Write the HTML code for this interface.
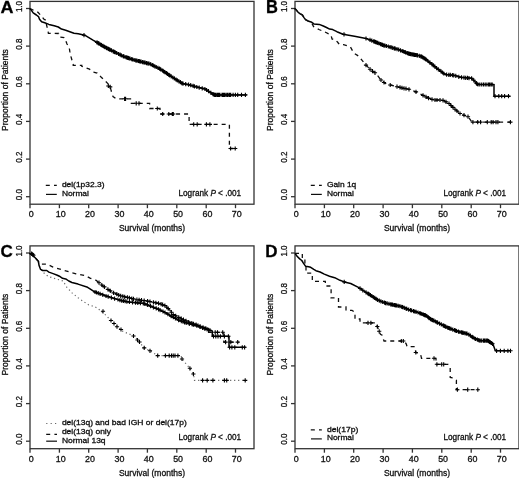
<!DOCTYPE html><html><head><meta charset="utf-8"><style>
html,body{margin:0;padding:0;background:#fff;}
body{width:520px;height:478px;overflow:hidden;}
svg{display:block;will-change:transform;}
text{font-family:"Liberation Sans", sans-serif;fill:#111;stroke:#111;stroke-width:0.3;}
.tl{font-size:8.9px;}
.tly{font-size:9px;}
.lab{font-size:8.5px;}
.leg{font-size:8.2px;}
.lg{font-size:7.5px;}
.let{font-size:17px;font-weight:bold;fill:#000;}
.ax{fill:none;stroke:#333;stroke-width:1.3;}
.sl{fill:none;stroke:#111;stroke-width:1.2;}
.dsl{fill:none;stroke:#111;stroke-width:1.2;stroke-dasharray:4 4.2;}
.dtl{fill:none;stroke:#666;stroke-width:1.2;stroke-dasharray:1.2 3.2;}
.sc{fill:none;stroke:#000;stroke-width:1.5;stroke-linejoin:round;}
.dc{fill:none;stroke:#111;stroke-width:1.3;stroke-dasharray:4 4;}
.tc{fill:none;stroke:#666;stroke-width:1.2;stroke-dasharray:1.2 2.8;}
.cr{fill:none;stroke:#000;stroke-width:1.1;}
</style></head><body>
<svg width="520" height="478" viewBox="0 0 520 478">
<defs><filter id="bl" x="0" y="0" width="1" height="1"><feGaussianBlur stdDeviation="0.4"/></filter></defs>
<rect width="520" height="478" fill="#fff"/>
<g filter="url(#bl)">
<g transform="translate(0 0)">
<rect class="ax" x="30" y="1.4" width="224" height="202.8"/>
<path class="ax" d="M26 196.7 H30"/>
<text class="tly" transform="translate(21.8 194.7) rotate(-90)" text-anchor="middle" textLength="11.1" lengthAdjust="spacingAndGlyphs">0.0</text>
<path class="ax" d="M26 159.1 H30"/>
<text class="tly" transform="translate(21.8 157.1) rotate(-90)" text-anchor="middle" textLength="11.1" lengthAdjust="spacingAndGlyphs">0.2</text>
<path class="ax" d="M26 121.4 H30"/>
<text class="tly" transform="translate(21.8 119.4) rotate(-90)" text-anchor="middle" textLength="11.1" lengthAdjust="spacingAndGlyphs">0.4</text>
<path class="ax" d="M26 83.8 H30"/>
<text class="tly" transform="translate(21.8 81.8) rotate(-90)" text-anchor="middle" textLength="11.1" lengthAdjust="spacingAndGlyphs">0.6</text>
<path class="ax" d="M26 46.1 H30"/>
<text class="tly" transform="translate(21.8 44.1) rotate(-90)" text-anchor="middle" textLength="11.1" lengthAdjust="spacingAndGlyphs">0.8</text>
<path class="ax" d="M26 8.5 H30"/>
<text class="tly" transform="translate(21.8 6.5) rotate(-90)" text-anchor="middle" textLength="11.1" lengthAdjust="spacingAndGlyphs">1.0</text>
<path class="ax" d="M30 204.2 V208.2"/>
<text class="tl" x="31.3" y="217" text-anchor="middle">0</text>
<path class="ax" d="M59.4 204.2 V208.2"/>
<text class="tl" x="60.7" y="217" text-anchor="middle">10</text>
<path class="ax" d="M88.7 204.2 V208.2"/>
<text class="tl" x="90" y="217" text-anchor="middle">20</text>
<path class="ax" d="M118.1 204.2 V208.2"/>
<text class="tl" x="119.4" y="217" text-anchor="middle">30</text>
<path class="ax" d="M147.4 204.2 V208.2"/>
<text class="tl" x="148.7" y="217" text-anchor="middle">40</text>
<path class="ax" d="M176.8 204.2 V208.2"/>
<text class="tl" x="178.1" y="217" text-anchor="middle">50</text>
<path class="ax" d="M206.2 204.2 V208.2"/>
<text class="tl" x="207.5" y="217" text-anchor="middle">60</text>
<path class="ax" d="M235.5 204.2 V208.2"/>
<text class="tl" x="236.8" y="217" text-anchor="middle">70</text>
<text class="lab" x="152" y="231.2" text-anchor="middle">Survival (months)</text>
<text class="lab" transform="translate(7.6 90) rotate(-90)" text-anchor="middle">Proportion of Patients</text>
<text class="let" transform="translate(0.5 13.2) scale(1.06 1)">A</text>
<text class="leg" x="178.5" y="195.8">Logrank <tspan font-style="italic">P</tspan> &lt; .001</text>
<path class="dsl" d="M45.8 185.3 H56.8"/>
<text class="lg" x="61.9" y="187.1" textLength="42.6" lengthAdjust="spacingAndGlyphs">del(1p32.3)</text>
<path class="sl" d="M46 194.4 H56.8"/>
<text class="lg" x="61.9" y="195.8" textLength="27" lengthAdjust="spacingAndGlyphs">Normal</text>
</g>
<g transform="translate(265 0)">
<rect class="ax" x="30" y="1.4" width="224" height="202.8"/>
<path class="ax" d="M26 196.7 H30"/>
<text class="tly" transform="translate(21.8 194.7) rotate(-90)" text-anchor="middle" textLength="11.1" lengthAdjust="spacingAndGlyphs">0.0</text>
<path class="ax" d="M26 159.1 H30"/>
<text class="tly" transform="translate(21.8 157.1) rotate(-90)" text-anchor="middle" textLength="11.1" lengthAdjust="spacingAndGlyphs">0.2</text>
<path class="ax" d="M26 121.4 H30"/>
<text class="tly" transform="translate(21.8 119.4) rotate(-90)" text-anchor="middle" textLength="11.1" lengthAdjust="spacingAndGlyphs">0.4</text>
<path class="ax" d="M26 83.8 H30"/>
<text class="tly" transform="translate(21.8 81.8) rotate(-90)" text-anchor="middle" textLength="11.1" lengthAdjust="spacingAndGlyphs">0.6</text>
<path class="ax" d="M26 46.1 H30"/>
<text class="tly" transform="translate(21.8 44.1) rotate(-90)" text-anchor="middle" textLength="11.1" lengthAdjust="spacingAndGlyphs">0.8</text>
<path class="ax" d="M26 8.5 H30"/>
<text class="tly" transform="translate(21.8 6.5) rotate(-90)" text-anchor="middle" textLength="11.1" lengthAdjust="spacingAndGlyphs">1.0</text>
<path class="ax" d="M30 204.2 V208.2"/>
<text class="tl" x="31.3" y="217" text-anchor="middle">0</text>
<path class="ax" d="M59.4 204.2 V208.2"/>
<text class="tl" x="60.7" y="217" text-anchor="middle">10</text>
<path class="ax" d="M88.7 204.2 V208.2"/>
<text class="tl" x="90" y="217" text-anchor="middle">20</text>
<path class="ax" d="M118.1 204.2 V208.2"/>
<text class="tl" x="119.4" y="217" text-anchor="middle">30</text>
<path class="ax" d="M147.4 204.2 V208.2"/>
<text class="tl" x="148.7" y="217" text-anchor="middle">40</text>
<path class="ax" d="M176.8 204.2 V208.2"/>
<text class="tl" x="178.1" y="217" text-anchor="middle">50</text>
<path class="ax" d="M206.2 204.2 V208.2"/>
<text class="tl" x="207.5" y="217" text-anchor="middle">60</text>
<path class="ax" d="M235.5 204.2 V208.2"/>
<text class="tl" x="236.8" y="217" text-anchor="middle">70</text>
<text class="lab" x="152" y="231.2" text-anchor="middle">Survival (months)</text>
<text class="lab" transform="translate(7.6 90) rotate(-90)" text-anchor="middle">Proportion of Patients</text>
<text class="let" transform="translate(1.1 13.3) scale(0.97 1.03)">B</text>
<text class="leg" x="178.5" y="195.8">Logrank <tspan font-style="italic">P</tspan> &lt; .001</text>
<path class="dsl" d="M45.8 185.3 H56.8"/>
<text class="lg" x="61.9" y="187.1" textLength="29.4" lengthAdjust="spacingAndGlyphs">Gain 1q</text>
<path class="sl" d="M46 194.4 H56.8"/>
<text class="lg" x="61.9" y="195.8" textLength="27" lengthAdjust="spacingAndGlyphs">Normal</text>
</g>
<g transform="translate(0 244.5)">
<rect class="ax" x="30" y="1.4" width="224" height="202.8"/>
<path class="ax" d="M26 196.7 H30"/>
<text class="tly" transform="translate(21.8 194.7) rotate(-90)" text-anchor="middle" textLength="11.1" lengthAdjust="spacingAndGlyphs">0.0</text>
<path class="ax" d="M26 159.1 H30"/>
<text class="tly" transform="translate(21.8 157.1) rotate(-90)" text-anchor="middle" textLength="11.1" lengthAdjust="spacingAndGlyphs">0.2</text>
<path class="ax" d="M26 121.4 H30"/>
<text class="tly" transform="translate(21.8 119.4) rotate(-90)" text-anchor="middle" textLength="11.1" lengthAdjust="spacingAndGlyphs">0.4</text>
<path class="ax" d="M26 83.8 H30"/>
<text class="tly" transform="translate(21.8 81.8) rotate(-90)" text-anchor="middle" textLength="11.1" lengthAdjust="spacingAndGlyphs">0.6</text>
<path class="ax" d="M26 46.1 H30"/>
<text class="tly" transform="translate(21.8 44.1) rotate(-90)" text-anchor="middle" textLength="11.1" lengthAdjust="spacingAndGlyphs">0.8</text>
<path class="ax" d="M26 8.5 H30"/>
<text class="tly" transform="translate(21.8 6.5) rotate(-90)" text-anchor="middle" textLength="11.1" lengthAdjust="spacingAndGlyphs">1.0</text>
<path class="ax" d="M30 204.2 V208.2"/>
<text class="tl" x="31.3" y="217" text-anchor="middle">0</text>
<path class="ax" d="M59.4 204.2 V208.2"/>
<text class="tl" x="60.7" y="217" text-anchor="middle">10</text>
<path class="ax" d="M88.7 204.2 V208.2"/>
<text class="tl" x="90" y="217" text-anchor="middle">20</text>
<path class="ax" d="M118.1 204.2 V208.2"/>
<text class="tl" x="119.4" y="217" text-anchor="middle">30</text>
<path class="ax" d="M147.4 204.2 V208.2"/>
<text class="tl" x="148.7" y="217" text-anchor="middle">40</text>
<path class="ax" d="M176.8 204.2 V208.2"/>
<text class="tl" x="178.1" y="217" text-anchor="middle">50</text>
<path class="ax" d="M206.2 204.2 V208.2"/>
<text class="tl" x="207.5" y="217" text-anchor="middle">60</text>
<path class="ax" d="M235.5 204.2 V208.2"/>
<text class="tl" x="236.8" y="217" text-anchor="middle">70</text>
<text class="lab" x="152" y="231.2" text-anchor="middle">Survival (months)</text>
<text class="lab" transform="translate(7.6 90) rotate(-90)" text-anchor="middle">Proportion of Patients</text>
<text class="let" transform="translate(0.5 12.9)">C</text>
<text class="leg" x="178.5" y="195.8">Logrank <tspan font-style="italic">P</tspan> &lt; .001</text>
<path class="dtl" d="M46.2 179 H57"/>
<text class="lg" x="61.9" y="180.6" textLength="124.9" lengthAdjust="spacingAndGlyphs">del(13q) and bad IGH or del(17p)</text>
<path class="dsl" d="M46.2 189.8 H57"/>
<text class="lg" x="61.9" y="189.4" textLength="49.1" lengthAdjust="spacingAndGlyphs">del(13q) only</text>
<path class="sl" d="M46.2 196.7 H57"/>
<text class="lg" x="61.9" y="198.7" textLength="43.7" lengthAdjust="spacingAndGlyphs">Normal 13q</text>
</g>
<g transform="translate(265 244.5)">
<rect class="ax" x="30" y="1.4" width="224" height="202.8"/>
<path class="ax" d="M26 196.7 H30"/>
<text class="tly" transform="translate(21.8 194.7) rotate(-90)" text-anchor="middle" textLength="11.1" lengthAdjust="spacingAndGlyphs">0.0</text>
<path class="ax" d="M26 159.1 H30"/>
<text class="tly" transform="translate(21.8 157.1) rotate(-90)" text-anchor="middle" textLength="11.1" lengthAdjust="spacingAndGlyphs">0.2</text>
<path class="ax" d="M26 121.4 H30"/>
<text class="tly" transform="translate(21.8 119.4) rotate(-90)" text-anchor="middle" textLength="11.1" lengthAdjust="spacingAndGlyphs">0.4</text>
<path class="ax" d="M26 83.8 H30"/>
<text class="tly" transform="translate(21.8 81.8) rotate(-90)" text-anchor="middle" textLength="11.1" lengthAdjust="spacingAndGlyphs">0.6</text>
<path class="ax" d="M26 46.1 H30"/>
<text class="tly" transform="translate(21.8 44.1) rotate(-90)" text-anchor="middle" textLength="11.1" lengthAdjust="spacingAndGlyphs">0.8</text>
<path class="ax" d="M26 8.5 H30"/>
<text class="tly" transform="translate(21.8 6.5) rotate(-90)" text-anchor="middle" textLength="11.1" lengthAdjust="spacingAndGlyphs">1.0</text>
<path class="ax" d="M30 204.2 V208.2"/>
<text class="tl" x="31.3" y="217" text-anchor="middle">0</text>
<path class="ax" d="M59.4 204.2 V208.2"/>
<text class="tl" x="60.7" y="217" text-anchor="middle">10</text>
<path class="ax" d="M88.7 204.2 V208.2"/>
<text class="tl" x="90" y="217" text-anchor="middle">20</text>
<path class="ax" d="M118.1 204.2 V208.2"/>
<text class="tl" x="119.4" y="217" text-anchor="middle">30</text>
<path class="ax" d="M147.4 204.2 V208.2"/>
<text class="tl" x="148.7" y="217" text-anchor="middle">40</text>
<path class="ax" d="M176.8 204.2 V208.2"/>
<text class="tl" x="178.1" y="217" text-anchor="middle">50</text>
<path class="ax" d="M206.2 204.2 V208.2"/>
<text class="tl" x="207.5" y="217" text-anchor="middle">60</text>
<path class="ax" d="M235.5 204.2 V208.2"/>
<text class="tl" x="236.8" y="217" text-anchor="middle">70</text>
<text class="lab" x="152" y="231.2" text-anchor="middle">Survival (months)</text>
<text class="lab" transform="translate(7.6 90) rotate(-90)" text-anchor="middle">Proportion of Patients</text>
<text class="let" transform="translate(0.3 12.7) scale(1 1.02)">D</text>
<text class="leg" x="178.5" y="195.8">Logrank <tspan font-style="italic">P</tspan> &lt; .001</text>
<path class="dsl" d="M45.8 185.3 H56.8"/>
<text class="lg" x="61.9" y="187.1" textLength="31.4" lengthAdjust="spacingAndGlyphs">del(17p)</text>
<path class="sl" d="M46 194.4 H56.8"/>
<text class="lg" x="61.9" y="195.8" textLength="27" lengthAdjust="spacingAndGlyphs">Normal</text>
</g>
<path class="sc" d="M29.5 8.4 L31.1 9.8 L33.2 12.9 L36.4 15 L38.5 16.6 L39.5 19.2 L41.6 21.8 L44.7 22.8 L48.9 24.4 L54.2 25.8 L58.3 27 L61.5 29.1 L65.7 30.2 L69.8 31.7 L74 33.3 L78.2 33.8 L84.7 35.2 L93.4 40.4 L98 43 L104.9 47.1 L112.6 51 L124.2 56.7 L134.2 60 L145.8 62.9 L150 63.8 L155.4 66.7 L159.2 68.4 L166.5 73.2 L173 77.6 L182.2 83.4 L190 85 L196 86.8 L205.3 89.1 L212.2 93.7 L214.5 94.9 L246.7 94.9"/>
<path class="dc" d="M30 8.5 L34 10.5 L38 12.3 L44 19.2 L46.3 20.5 L46.5 25 L47.5 28.5 L48.4 33.3 L58.6 33.5 L60 37 L64 37.5 L65.5 40 L67 44 L69.3 48 L70.2 54 L73.2 64.4 L73.2 65.4 L81.8 65.4 L81.8 66.3 L89.5 69.2 L93.4 72.1 L97.2 73 L101 77 L104.4 80.2 L108.8 84.6 L110.2 86.9 L111.2 90.8 L113 96.5 L116 98.8 L130.5 98.8 L130.5 103.3 L149.6 103.3 L149.6 108.5 L160 108.5 L160 114 L189.1 114 L189.1 124.4 L229.4 124.4 L229.4 148.5 L237.5 148.5"/>
<path class="cr" d="M81.9 35.2h4.2M84 33.1v4.2M94.9 42.4h4.2M97 40.3v4.2M96.1 43.1h4.2M98.2 41v4.2M97 43.7h4.2M99.1 41.6v4.2M98.6 44.6h4.2M100.7 42.5v4.2M99.4 45.1h4.2M101.5 43v4.2M100.8 45.9h4.2M102.9 43.8v4.2M102 46.6h4.2M104.1 44.5v4.2M102.9 47.1h4.2M105 45v4.2M104.3 47.8h4.2M106.4 45.7v4.2M105.1 48.3h4.2M107.2 46.2v4.2M106.4 48.9h4.2M108.5 46.8v4.2M107.2 49.3h4.2M109.3 47.2v4.2M108.1 49.8h4.2M110.2 47.7v4.2M109.4 50.4h4.2M111.5 48.3v4.2M111.1 51.3h4.2M113.2 49.2v4.2M112.1 51.8h4.2M114.2 49.7v4.2M113.1 52.3h4.2M115.2 50.2v4.2M114.6 53h4.2M116.7 50.9v4.2M116.5 54h4.2M118.6 51.9v4.2M118 54.7h4.2M120.1 52.6v4.2M119.2 55.3h4.2M121.3 53.2v4.2M121.1 56.2h4.2M123.2 54.1v4.2M122 56.6h4.2M124.1 54.5v4.2M123.8 57.2h4.2M125.9 55.1v4.2M124.9 57.6h4.2M127 55.5v4.2M125.8 57.9h4.2M127.9 55.8v4.2M126.7 58.2h4.2M128.8 56.1v4.2M127.9 58.6h4.2M130 56.5v4.2M129.6 59.2h4.2M131.7 57.1v4.2M130.6 59.5h4.2M132.7 57.4v4.2M132.1 60h4.2M134.2 57.9v4.2M133.6 60.4h4.2M135.7 58.3v4.2M134.8 60.7h4.2M136.9 58.6v4.2M136.2 61h4.2M138.3 58.9v4.2M137.1 61.2h4.2M139.2 59.1v4.2M137.9 61.5h4.2M140 59.4v4.2M139 61.7h4.2M141.1 59.6v4.2M140.5 62.1h4.2M142.6 60v4.2M141.8 62.4h4.2M143.9 60.3v4.2M143 62.7h4.2M145.1 60.6v4.2M144.4 63.1h4.2M146.5 61v4.2M145.7 63.3h4.2M147.8 61.2v4.2M146.9 63.6h4.2M149 61.5v4.2M148.6 64.2h4.2M150.7 62.1v4.2M150.2 65h4.2M152.3 62.9v4.2M151.2 65.6h4.2M153.3 63.5v4.2M152.7 66.4h4.2M154.8 64.3v4.2M154.1 67h4.2M156.2 64.9v4.2M155.9 67.9h4.2M158 65.8v4.2M157.5 68.7h4.2M159.6 66.6v4.2M158.6 69.4h4.2M160.7 67.3v4.2M160.6 70.7h4.2M162.7 68.6v4.2M161.5 71.3h4.2M163.6 69.2v4.2M162.7 72.1h4.2M164.8 70v4.2M164.4 73.2h4.2M166.5 71.1v4.2M165.4 73.9h4.2M167.5 71.8v4.2M166.7 74.8h4.2M168.8 72.7v4.2M167.6 75.3h4.2M169.7 73.2v4.2M169.1 76.4h4.2M171.2 74.3v4.2M170.8 77.5h4.2M172.9 75.4v4.2M172.2 78.4h4.2M174.3 76.3v4.2M174 79.6h4.2M176.1 77.5v4.2M175.2 80.3h4.2M177.3 78.2v4.2M176.8 81.3h4.2M178.9 79.2v4.2M178.3 82.2h4.2M180.4 80.1v4.2M179.7 83.2h4.2M181.8 81.1v4.2M180.9 83.6h4.2M183 81.5v4.2M183.6 84.1h4.2M185.7 82v4.2M186.5 84.7h4.2M188.6 82.6v4.2M188.6 85.2h4.2M190.7 83.1v4.2M191 85.9h4.2M193.1 83.8v4.2M192.3 86.3h4.2M194.4 84.2v4.2M194.7 87h4.2M196.8 84.9v4.2M197.1 87.6h4.2M199.2 85.5v4.2M200.1 88.3h4.2M202.2 86.2v4.2M202.8 89h4.2M204.9 86.9v4.2M204.5 90h4.2M206.6 87.9v4.2M206.4 91.2h4.2M208.5 89.1v4.2M208.8 92.8h4.2M210.9 90.7v4.2M210.9 94.1h4.2M213 92v4.2M211.9 94.6h4.2M214 92.5v4.2M212.7 94.9h4.2M214.8 92.8v4.2M213.4 94.9h4.2M215.5 92.8v4.2M214 94.9h4.2M216.1 92.8v4.2M215.3 94.9h4.2M217.4 92.8v4.2M216 94.9h4.2M218.1 92.8v4.2M216.9 94.9h4.2M219 92.8v4.2M217.8 94.9h4.2M219.9 92.8v4.2M219.9 94.9h4.2M222 92.8v4.2M220.6 94.9h4.2M222.7 92.8v4.2M221.6 94.9h4.2M223.7 92.8v4.2M222.7 94.9h4.2M224.8 92.8v4.2M224.1 94.9h4.2M226.2 92.8v4.2M225.4 94.9h4.2M227.5 92.8v4.2M226.8 94.9h4.2M228.9 92.8v4.2M227.6 94.9h4.2M229.7 92.8v4.2M228.6 94.9h4.2M230.7 92.8v4.2M231 94.9h4.2M233.1 92.8v4.2M233.3 94.9h4.2M235.4 92.8v4.2M235.6 94.9h4.2M237.7 92.8v4.2M239.4 94.9h4.2M241.5 92.8v4.2M243.3 94.9h4.2M245.4 92.8v4.2"/>
<path class="cr" d="M106.2 86h4.2M108.3 83.9v4.2M108.1 86.9h4.2M110.2 84.8v4.2M122.5 98.8h4.2M124.6 96.7v4.2M123.5 98.8h4.2M125.6 96.7v4.2M134.1 103.3h4.2M136.2 101.2v4.2M136.9 103.3h4.2M139 101.2v4.2M155.2 108.5h4.2M157.3 106.4v4.2M160.6 114h4.2M162.7 111.9v4.2M166.7 114h4.2M168.8 111.9v4.2M170.2 114h4.2M172.3 111.9v4.2M171.2 114h4.2M173.3 111.9v4.2M191.6 124.4h4.2M193.7 122.3v4.2M195.1 124.4h4.2M197.2 122.3v4.2M204.3 124.4h4.2M206.4 122.3v4.2M207.8 124.4h4.2M209.9 122.3v4.2M228.5 148.5h4.2M230.6 146.4v4.2M233.1 148.5h4.2M235.2 146.4v4.2"/>
<path class="sc" d="M294.5 8.3 L296.1 9.8 L298.2 12.4 L300.3 13.9 L302.4 15 L304 17.6 L305.6 19.7 L308.7 21.3 L311.8 22.3 L313.9 23.9 L319.2 24.4 L323.3 26 L326.5 27.5 L329.6 29.1 L332.7 29.6 L336.9 31.7 L343 34.3 L354.5 36.2 L366.1 38.5 L373.8 41.3 L383.4 45.2 L389.6 46.9 L399.2 49.8 L408.8 53.7 L418.5 55.6 L421.3 56.4 L425.8 59.3 L431.5 63.8 L437.3 68.7 L445 74.4 L454.6 75.4 L460.4 77.3 L471.9 78.3 L477.7 84.5 L494 84.5 L494 96.2 L510.4 96.2"/>
<path class="dc" d="M294.5 8.3 L296.1 9.8 L298.2 12.4 L300.3 13.9 L302.4 15 L304 17.6 L305.6 19.7 L308.7 21.3 L311.5 22.5 L313.5 26.5 L319 29.5 L325 32 L331 35 L332 39 L335 39.6 L337.5 42 L339.2 44.3 L343.5 44.6 L350.4 46.9 L353.8 53 L359 56.4 L362.5 60.8 L366 65.1 L371.1 70.3 L376.3 73.7 L380.7 79.8 L385 83.3 L390.2 85 L397.1 86.7 L404 88.4 L409.2 89.3 L416.1 91.9 L423 95.4 L428.2 98 L433.5 100 L442.1 100 L448.8 103.3 L454.6 109 L460.4 113.8 L468.1 116.7 L471.9 122.1 L510.4 122.1"/>
<path class="cr" d="M341.9 34.4h4.2M344 32.3v4.2M363.9 38.5h4.2M366 36.4v4.2M367.9 39.9h4.2M370 37.8v4.2M369.7 40.6h4.2M371.8 38.5v4.2M371.6 41.3h4.2M373.7 39.2v4.2M372.6 41.7h4.2M374.7 39.6v4.2M373.6 42.1h4.2M375.7 40v4.2M374.6 42.5h4.2M376.7 40.4v4.2M375.7 42.9h4.2M377.8 40.8v4.2M377 43.5h4.2M379.1 41.4v4.2M378.5 44.1h4.2M380.6 42v4.2M379.6 44.5h4.2M381.7 42.4v4.2M380.4 44.8h4.2M382.5 42.7v4.2M381.6 45.3h4.2M383.7 43.2v4.2M382.8 45.6h4.2M384.9 43.5v4.2M384.3 46h4.2M386.4 43.9v4.2M386.2 46.5h4.2M388.3 44.4v4.2M387.8 47h4.2M389.9 44.9v4.2M389.1 47.4h4.2M391.2 45.3v4.2M390.6 47.8h4.2M392.7 45.7v4.2M392.2 48.3h4.2M394.3 46.2v4.2M393.1 48.6h4.2M395.2 46.5v4.2M394.9 49.1h4.2M397 47v4.2M396.6 49.6h4.2M398.7 47.5v4.2M398.4 50.3h4.2M400.5 48.2v4.2M400.1 51h4.2M402.2 48.9v4.2M401.3 51.5h4.2M403.4 49.4v4.2M402.6 52h4.2M404.7 49.9v4.2M403.5 52.4h4.2M405.6 50.3v4.2M405 53h4.2M407.1 50.9v4.2M405.9 53.4h4.2M408 51.3v4.2M406.7 53.7h4.2M408.8 51.6v4.2M407.7 53.9h4.2M409.8 51.8v4.2M408.7 54.1h4.2M410.8 52v4.2M409.9 54.3h4.2M412 52.2v4.2M410.7 54.5h4.2M412.8 52.4v4.2M411.5 54.6h4.2M413.6 52.5v4.2M412.5 54.8h4.2M414.6 52.7v4.2M413.4 55h4.2M415.5 52.9v4.2M414.6 55.2h4.2M416.7 53.1v4.2M415.4 55.4h4.2M417.5 53.3v4.2M417.2 55.8h4.2M419.3 53.7v4.2M418.7 56.3h4.2M420.8 54.2v4.2M419.6 56.7h4.2M421.7 54.6v4.2M420.7 57.4h4.2M422.8 55.3v4.2M421.9 58.1h4.2M424 56v4.2M423.1 58.9h4.2M425.2 56.8v4.2M424 59.6h4.2M426.1 57.5v4.2M425.8 61h4.2M427.9 58.9v4.2M427.7 62.5h4.2M429.8 60.4v4.2M427.9 62.6h4.2M430 60.5v4.2M430 64.3h4.2M432.1 62.2v4.2M431.3 65.4h4.2M433.4 63.3v4.2M432.7 66.6h4.2M434.8 64.5v4.2M434.5 68.1h4.2M436.6 66v4.2M436.2 69.4h4.2M438.3 67.3v4.2M438.9 71.4h4.2M441 69.3v4.2M440.4 72.5h4.2M442.5 70.4v4.2M441.6 73.5h4.2M443.7 71.4v4.2M444.5 74.6h4.2M446.6 72.5v4.2M446.7 74.8h4.2M448.8 72.7v4.2M448.2 74.9h4.2M450.3 72.8v4.2M450.3 75.2h4.2M452.4 73.1v4.2M451.6 75.3h4.2M453.7 73.2v4.2M453.7 75.8h4.2M455.8 73.7v4.2M456.7 76.8h4.2M458.8 74.7v4.2M459.4 77.4h4.2M461.5 75.3v4.2M461.9 77.6h4.2M464 75.5v4.2M463.6 77.8h4.2M465.7 75.7v4.2M465.4 77.9h4.2M467.5 75.8v4.2M466.9 78.1h4.2M469 76v4.2M469.5 78.3h4.2M471.6 76.2v4.2M471.7 80.3h4.2M473.8 78.2v4.2M474.3 83.1h4.2M476.4 81v4.2M474.9 83.8h4.2M477 81.7v4.2M475.9 84.5h4.2M478 82.4v4.2M477.7 84.5h4.2M479.8 82.4v4.2M479.6 84.5h4.2M481.7 82.4v4.2M481.4 84.5h4.2M483.5 82.4v4.2M483.1 84.5h4.2M485.2 82.4v4.2M484.8 84.5h4.2M486.9 82.4v4.2M486.5 84.5h4.2M488.6 82.4v4.2M487.5 84.5h4.2M489.6 82.4v4.2M488.9 84.5h4.2M491 82.4v4.2M490.1 84.5h4.2M492.2 82.4v4.2M492.9 96.2h4.2M495 94.1v4.2M496.7 96.2h4.2M498.8 94.1v4.2M499.6 96.2h4.2M501.7 94.1v4.2M502.5 96.2h4.2M504.6 94.1v4.2M506.4 96.2h4.2M508.5 94.1v4.2"/>
<path class="cr" d="M363.9 65.1h4.2M366 63v4.2M367.9 69.2h4.2M370 67.1v4.2M370.4 71.2h4.2M372.5 69.1v4.2M372.9 72.8h4.2M375 70.8v4.2M378.9 80h4.2M381 77.9v4.2M381.9 82.5h4.2M384 80.4v4.2M388.1 85h4.2M390.2 82.9v4.2M394.9 86.7h4.2M397 84.6v4.2M397.9 87.4h4.2M400 85.3v4.2M399.9 87.9h4.2M402 85.8v4.2M401.9 88.4h4.2M404 86.3v4.2M403.9 88.7h4.2M406 86.6v4.2M406.9 89.3h4.2M409 87.2v4.2M413.9 91.9h4.2M416 89.8v4.2M420.9 95.4h4.2M423 93.3v4.2M423.9 96.9h4.2M426 94.8v4.2M426.4 98.1h4.2M428.5 96v4.2M429.9 99.4h4.2M432 97.3v4.2M432.9 100h4.2M435 97.9v4.2M434.9 100h4.2M437 97.9v4.2M437.9 100h4.2M440 97.9v4.2M440.9 100.4h4.2M443 98.3v4.2M443.9 101.9h4.2M446 99.8v4.2M446.9 103.5h4.2M449 101.4v4.2M448.9 105.5h4.2M451 103.4v4.2M450.9 107.4h4.2M453 105.3v4.2M452.9 109.3h4.2M455 107.2v4.2M454.9 111h4.2M457 108.9v4.2M457.9 113.5h4.2M460 111.4v4.2M461.9 115.2h4.2M464 113.1v4.2M465.9 116.7h4.2M468 114.6v4.2M470.8 122.1h4.2M472.9 120v4.2M475.6 122.1h4.2M477.7 120v4.2M478.5 122.1h4.2M480.6 120v4.2M485.2 122.1h4.2M487.3 120v4.2M489.1 122.1h4.2M491.2 120v4.2M491 122.1h4.2M493.1 120v4.2M493.9 122.1h4.2M496 120v4.2M495.8 122.1h4.2M497.9 120v4.2M508.3 122.1h4.2M510.4 120v4.2"/>
<path class="tc" d="M30 253.7 L33.8 256.5 L37.6 260.4 L39.5 266.2 L41.5 270 L44 273 L48.1 276.4 L57.3 279.3 L63.1 281 L66.5 286.8 L72.3 293.1 L78.1 297.8 L83.8 301.8 L88.4 304.7 L95.4 307 L98.8 309.3 L103.8 313.3 L111.5 321 L117.3 326.7 L123.1 331.5 L134.6 336.3 L138.5 341.2 L144.2 347.9 L150 350.8 L157.7 355.6 L181 355.6 L181.9 359 L189.9 368.3 L193.4 374 L194.5 380.4 L245.2 380.4"/>
<path class="dc" d="M30 253.7 L33 256 L37.6 260.4 L41.5 264.2 L47.2 264.2 L53 267.1 L62.6 270 L76.1 273.8 L85.7 275.8 L90 278.1 L96.2 280.4 L100.8 284.2 L106.9 288.8 L113.1 292.7 L120.8 295.8 L126.9 297.3 L136.2 299.6 L143.8 300.4 L151.5 301.9 L159.2 303.5 L165.4 305.8 L170 310.4 L173.1 314.5 L180.8 318.5 L188.5 321.9 L196.8 325 L206 328.5 L207.7 332.3 L223.8 332.3 L223.8 342.1 L238.8 342.1"/>
<path class="sc" d="M29.5 253.2 L33.2 255.8 L36.4 259 L38.5 261.6 L39 265.3 L40.6 269.4 L42.6 270.5 L46.8 270.5 L48.9 272.1 L53.1 273.6 L57.3 275.2 L59.4 276.2 L62.5 278.3 L65.7 278.9 L68.8 281 L71.9 282.5 L78 284.1 L87.6 287.3 L90 288.8 L94.6 291.9 L99.2 293.5 L105.4 295.8 L113.1 298.1 L120.8 300.4 L128.5 301.9 L136.2 302.7 L143.8 303.5 L151.5 306.5 L159.2 309.6 L166.9 313.5 L170 315.5 L178.4 320 L187.6 323.4 L196.8 325.7 L206 329.1 L212.3 331 L212.3 336.3 L229 336.3 L229 347.3 L245.7 347.3"/>
<path class="cr" d="M100.9 311.3h4.2M103 309.2v4.2M108.9 320.5h4.2M111 318.4v4.2M111.9 323.5h4.2M114 321.4v4.2M114.9 326.7h4.2M117 324.6v4.2M118.9 329.5h4.2M121 327.4v4.2M131.4 336h4.2M133.5 333.9v4.2M135.4 340h4.2M137.5 337.9v4.2M137.4 342h4.2M139.5 339.9v4.2M142.1 347.9h4.2M144.2 345.8v4.2M147.9 350.8h4.2M150 348.7v4.2M155.6 355.6h4.2M157.7 353.5v4.2M163.3 355.6h4.2M165.4 353.5v4.2M167.1 355.6h4.2M169.2 353.5v4.2M169.4 355.6h4.2M171.5 353.5v4.2M171.1 355.6h4.2M173.2 353.5v4.2M172.9 355.6h4.2M175 353.5v4.2M175.8 355.6h4.2M177.9 353.5v4.2M179.9 359h4.2M182 356.9v4.2M187.8 368.3h4.2M189.9 366.2v4.2M191.3 374h4.2M193.4 371.9v4.2M200.5 380.4h4.2M202.6 378.3v4.2M205.1 380.4h4.2M207.2 378.3v4.2M210.8 380.4h4.2M212.9 378.3v4.2M222.3 380.4h4.2M224.4 378.3v4.2M224.6 380.4h4.2M226.7 378.3v4.2M243.1 380.4h4.2M245.2 378.3v4.2"/>
<path class="cr" d="M96.9 282.7h4.2M99 280.6v4.2M99.7 285h4.2M101.8 282.9v4.2M102.3 286.9h4.2M104.4 284.8v4.2M105.8 289.4h4.2M107.9 287.3v4.2M108.2 290.9h4.2M110.3 288.8v4.2M111.5 292.9h4.2M113.6 290.8v4.2M114.7 294.2h4.2M116.8 292.1v4.2M116.6 295h4.2M118.7 292.9v4.2M118.6 295.8h4.2M120.7 293.7v4.2M120.7 296.3h4.2M122.8 294.2v4.2M122.6 296.8h4.2M124.7 294.7v4.2M125.3 297.4h4.2M127.4 295.3v4.2M127.3 297.9h4.2M129.4 295.8v4.2M129.7 298.5h4.2M131.8 296.4v4.2M131.4 298.9h4.2M133.5 296.8v4.2M134.8 299.7h4.2M136.9 297.6v4.2M137 299.9h4.2M139.1 297.8v4.2M139.4 300.2h4.2M141.5 298.1v4.2M142.1 300.5h4.2M144.2 298.4v4.2M145.5 301.1h4.2M147.6 299v4.2M147.9 301.6h4.2M150 299.5v4.2M151.3 302.3h4.2M153.4 300.2v4.2M153.8 302.8h4.2M155.9 300.7v4.2M156.4 303.4h4.2M158.5 301.3v4.2M159 304.2h4.2M161.1 302.1v4.2M160.5 304.7h4.2M162.6 302.6v4.2M162.8 305.6h4.2M164.9 303.5v4.2M164.7 307.2h4.2M166.8 305.1v4.2M166.1 308.6h4.2M168.2 306.5v4.2M169.3 312.2h4.2M171.4 310.1v4.2M171.1 314.6h4.2M173.2 312.5v4.2M173.6 315.8h4.2M175.7 313.7v4.2M176.6 317.4h4.2M178.7 315.3v4.2M179.2 318.7h4.2M181.3 316.6v4.2M181.4 319.7h4.2M183.5 317.6v4.2M183.9 320.8h4.2M186 318.7v4.2M186.6 322h4.2M188.7 319.9v4.2M189.7 323.1h4.2M191.8 321v4.2M191.4 323.8h4.2M193.5 321.7v4.2M194 324.7h4.2M196.1 322.6v4.2M196 325.5h4.2M198.1 323.4v4.2M198 326.3h4.2M200.1 324.2v4.2M201.1 327.5h4.2M203.2 325.4v4.2M203.7 328.4h4.2M205.8 326.3v4.2M213.1 332.3h4.2M215.2 330.2v4.2M215.4 332.3h4.2M217.5 330.2v4.2M220.6 332.3h4.2M222.7 330.2v4.2M223.5 342.1h4.2M225.6 340v4.2M228.7 342.1h4.2M230.8 340v4.2M235.6 342.1h4.2M237.7 340v4.2"/>
<path class="cr" d="M29.5 253.6h4.2M31.6 251.5v4.2M30.5 254.3h4.2M32.6 252.2v4.2M31.3 255.2h4.2M33.4 253.1v4.2M92.9 292h4.2M95 289.9v4.2M94.3 292.5h4.2M96.4 290.4v4.2M96.1 293.2h4.2M98.2 291.1v4.2M98 293.8h4.2M100.1 291.7v4.2M100.7 294.8h4.2M102.8 292.7v4.2M103.9 296h4.2M106 293.9v4.2M106.1 296.6h4.2M108.2 294.5v4.2M109.3 297.6h4.2M111.4 295.5v4.2M112.5 298.6h4.2M114.6 296.5v4.2M115.8 299.5h4.2M117.9 297.4v4.2M117.8 300.1h4.2M119.9 298v4.2M119.6 300.6h4.2M121.7 298.5v4.2M121.3 300.9h4.2M123.4 298.8v4.2M123 301.2h4.2M125.1 299.1v4.2M124.8 301.6h4.2M126.9 299.5v4.2M127.3 302h4.2M129.4 299.9v4.2M130.4 302.3h4.2M132.5 300.2v4.2M133.4 302.6h4.2M135.5 300.5v4.2M135.7 302.9h4.2M137.8 300.8v4.2M138.3 303.1h4.2M140.4 301v4.2M141.2 303.4h4.2M143.3 301.3v4.2M142.7 303.9h4.2M144.8 301.8v4.2M145.3 304.9h4.2M147.4 302.8v4.2M148.4 306.1h4.2M150.5 304v4.2M151.3 307.3h4.2M153.4 305.2v4.2M154.1 308.4h4.2M156.2 306.3v4.2M156.4 309.3h4.2M158.5 307.2v4.2M158 310.1h4.2M160.1 308v4.2M160.9 311.5h4.2M163 309.4v4.2M162.9 312.5h4.2M165 310.4v4.2M165.8 314.1h4.2M167.9 312v4.2M169 316.1h4.2M171.1 314v4.2M171.2 317.2h4.2M173.3 315.1v4.2M173.3 318.4h4.2M175.4 316.3v4.2M176.5 320.1h4.2M178.6 318v4.2M179.2 321.1h4.2M181.3 319v4.2M180.9 321.7h4.2M183 319.6v4.2M182.4 322.3h4.2M184.5 320.2v4.2M184.1 322.9h4.2M186.2 320.8v4.2M187.2 323.8h4.2M189.3 321.7v4.2M190.1 324.5h4.2M192.2 322.4v4.2M191.7 324.9h4.2M193.8 322.8v4.2M194.7 325.7h4.2M196.8 323.6v4.2M197.9 326.9h4.2M200 324.8v4.2M200.5 327.9h4.2M202.6 325.8v4.2M202.6 328.6h4.2M204.7 326.5v4.2M205 329.4h4.2M207.1 327.3v4.2M206.5 329.9h4.2M208.6 327.8v4.2M207.9 330.3h4.2M210 328.2v4.2M211.4 336.3h4.2M213.5 334.2v4.2M213.7 336.3h4.2M215.8 334.2v4.2M215.9 336.3h4.2M218 334.2v4.2M218.3 336.3h4.2M220.4 334.2v4.2M222.3 336.3h4.2M224.4 334.2v4.2M226.3 336.3h4.2M228.4 334.2v4.2M227.5 347.3h4.2M229.6 345.2v4.2M229.8 347.3h4.2M231.9 345.2v4.2M232.7 347.3h4.2M234.8 345.2v4.2M240.2 347.3h4.2M242.3 345.2v4.2M242.5 347.3h4.2M244.6 345.2v4.2"/>
<path class="sc" d="M295 253.4 L297.1 256.3 L299.7 258.9 L301.8 260.5 L303.4 263.1 L305.5 266.2 L308.6 266.7 L310.7 267.3 L313.8 269.4 L315.9 270.7 L320.1 272 L324.3 274.1 L329.5 276.2 L334.7 277.7 L340 280.3 L344.2 281.9 L350.7 283.5 L358.4 287.3 L363.8 291 L371.5 295.8 L378.1 300.3 L385 302.9 L391.9 304.6 L400.6 306.3 L409.2 309.8 L417.9 312.4 L426.5 315.8 L430 318.8 L437.6 322.6 L447.6 327.6 L457.7 331.4 L467.7 333.9 L475.3 338.9 L480.3 340.7 L487.8 340.7 L492.9 344 L495.4 350.8 L511 350.8"/>
<path class="dc" d="M295 253.4 L302.3 253.4 L302.3 259.5 L304.9 259.5 L304.9 264 L306 264 L306 273.2 L312.3 273.2 L312.3 281.4 L325.3 281.4 L325.3 286 L331.1 286 L331.1 297.9 L338.5 297.9 L338.5 307 L346 307 L346 310.4 L352 310.4 L355 312.3 L355 319 L360 319 L360 322.9 L376.5 322.9 L377.3 326.5 L379.2 331.3 L380.5 334.4 L382.1 335.2 L384 341 L404.2 341 L406.2 343.8 L407.1 346.7 L414.8 346.7 L415.8 352.5 L420.6 354.4 L421.5 358.3 L436 358.3 L436 364.3 L448 364.3 L450.2 367.8 L450.2 377.5 L452.7 377.9 L456.4 380.4 L456.4 389.7 L479 389.7"/>
<path class="cr" d="M342.1 281.9h4.2M344.2 279.8v4.2M357.9 288.4h4.2M360 286.3v4.2M360.7 290.3h4.2M362.8 288.2v4.2M363.9 292.3h4.2M366 290.2v4.2M366 293.7h4.2M368.1 291.6v4.2M366.9 294.2h4.2M369 292.1v4.2M368.3 295.1h4.2M370.4 293v4.2M369.7 296h4.2M371.8 293.9v4.2M371.2 297.1h4.2M373.3 295v4.2M372.6 297.9h4.2M374.7 295.8v4.2M374 298.9h4.2M376.1 296.8v4.2M375.3 299.8h4.2M377.4 297.7v4.2M377.2 300.7h4.2M379.3 298.6v4.2M378.8 301.3h4.2M380.9 299.2v4.2M380.6 302h4.2M382.7 299.9v4.2M382.5 302.7h4.2M384.6 300.6v4.2M383.5 303.1h4.2M385.6 301v4.2M385 303.4h4.2M387.1 301.3v4.2M386.9 303.9h4.2M389 301.8v4.2M388.6 304.3h4.2M390.7 302.2v4.2M389.6 304.5h4.2M391.7 302.4v4.2M390.5 304.7h4.2M392.6 302.6v4.2M391.8 305h4.2M393.9 302.9v4.2M392.7 305.2h4.2M394.8 303.1v4.2M393.7 305.4h4.2M395.8 303.3v4.2M394.6 305.5h4.2M396.7 303.4v4.2M396.1 305.8h4.2M398.2 303.7v4.2M397.8 306.2h4.2M399.9 304.1v4.2M399.7 306.8h4.2M401.8 304.7v4.2M400.6 307.2h4.2M402.7 305.1v4.2M402.2 307.8h4.2M404.3 305.7v4.2M403.8 308.5h4.2M405.9 306.4v4.2M404.7 308.8h4.2M406.8 306.7v4.2M406.6 309.6h4.2M408.7 307.5v4.2M408.5 310.2h4.2M410.6 308.1v4.2M409.5 310.5h4.2M411.6 308.4v4.2M411.4 311.1h4.2M413.5 309v4.2M412.6 311.5h4.2M414.7 309.4v4.2M414 311.9h4.2M416.1 309.8v4.2M415.9 312.5h4.2M418 310.4v4.2M417.7 313.1h4.2M419.8 311v4.2M418.7 313.5h4.2M420.8 311.4v4.2M419.9 314h4.2M422 311.9v4.2M421.3 314.6h4.2M423.4 312.5v4.2M422.5 315.1h4.2M424.6 313v4.2M423.5 315.4h4.2M425.6 313.3v4.2M424.7 316h4.2M426.8 313.9v4.2M426.3 317.4h4.2M428.4 315.3v4.2M427.1 318.1h4.2M429.2 316v4.2M428.5 319.1h4.2M430.6 317v4.2M429.8 319.8h4.2M431.9 317.7v4.2M430.6 320.2h4.2M432.7 318.1v4.2M431.8 320.7h4.2M433.9 318.6v4.2M433.3 321.5h4.2M435.4 319.4v4.2M434.7 322.2h4.2M436.8 320.1v4.2M435.5 322.6h4.2M437.6 320.5v4.2M437.5 323.6h4.2M439.6 321.5v4.2M439.2 324.4h4.2M441.3 322.3v4.2M441.1 325.4h4.2M443.2 323.3v4.2M442 325.8h4.2M444.1 323.7v4.2M443.1 326.4h4.2M445.2 324.3v4.2M443.9 326.8h4.2M446 324.7v4.2M445.6 327.6h4.2M447.7 325.5v4.2M446.7 328h4.2M448.8 325.9v4.2M447.6 328.4h4.2M449.7 326.3v4.2M448.9 328.9h4.2M451 326.8v4.2M450.7 329.6h4.2M452.8 327.5v4.2M452.5 330.2h4.2M454.6 328.1v4.2M453.6 330.6h4.2M455.7 328.5v4.2M454.5 331h4.2M456.6 328.9v4.2M456.4 331.6h4.2M458.5 329.5v4.2M457.8 332h4.2M459.9 329.9v4.2M459.4 332.4h4.2M461.5 330.3v4.2M460.3 332.6h4.2M462.4 330.5v4.2M461.2 332.8h4.2M463.3 330.7v4.2M462.7 333.2h4.2M464.8 331.1v4.2M464 333.5h4.2M466.1 331.4v4.2M464.9 333.7h4.2M467 331.6v4.2M466.8 334.7h4.2M468.9 332.6v4.2M468.3 335.7h4.2M470.4 333.6v4.2M470 336.8h4.2M472.1 334.7v4.2M470.9 337.4h4.2M473 335.3v4.2M472.7 338.5h4.2M474.8 336.4v4.2M473.5 339h4.2M475.6 336.9v4.2M475.3 339.7h4.2M477.4 337.6v4.2M476.6 340.1h4.2M478.7 338v4.2M477.8 340.6h4.2M479.9 338.5v4.2M479.2 340.7h4.2M481.3 338.6v4.2M481.1 340.7h4.2M483.2 338.6v4.2M482.2 340.7h4.2M484.3 338.6v4.2M483.1 340.7h4.2M485.2 338.6v4.2M484.5 340.7h4.2M486.6 338.6v4.2M485.6 340.7h4.2M487.7 338.6v4.2M486.5 341.2h4.2M488.6 339.1v4.2M487.4 341.8h4.2M489.5 339.7v4.2M488.3 342.4h4.2M490.4 340.3v4.2M489.3 343h4.2M491.4 340.9v4.2M490.4 343.8h4.2M492.5 341.7v4.2M494.5 350.8h4.2M496.6 348.7v4.2M498.3 350.8h4.2M500.4 348.7v4.2M502.1 350.8h4.2M504.2 348.7v4.2M505.8 350.8h4.2M507.9 348.7v4.2M508.4 350.8h4.2M510.5 348.7v4.2"/>
<path class="cr" d="M365.9 322.9h4.2M368 320.8v4.2M368.8 322.9h4.2M370.9 320.8v4.2M375.2 326.5h4.2M377.3 324.4v4.2M377.1 331.3h4.2M379.2 329.2v4.2M399.2 341h4.2M401.3 338.9v4.2M401.2 341h4.2M403.3 338.9v4.2M413.7 352.5h4.2M415.8 350.4v4.2M431.9 358.3h4.2M434 356.2v4.2M434.8 364.3h4.2M436.9 362.2v4.2M439.6 364.3h4.2M441.7 362.2v4.2M441.6 364.3h4.2M443.7 362.2v4.2M455.3 389.7h4.2M457.4 387.6v4.2M465.6 389.7h4.2M467.7 387.6v4.2M475.7 389.7h4.2M477.8 387.6v4.2"/>
</g></svg></body></html>
